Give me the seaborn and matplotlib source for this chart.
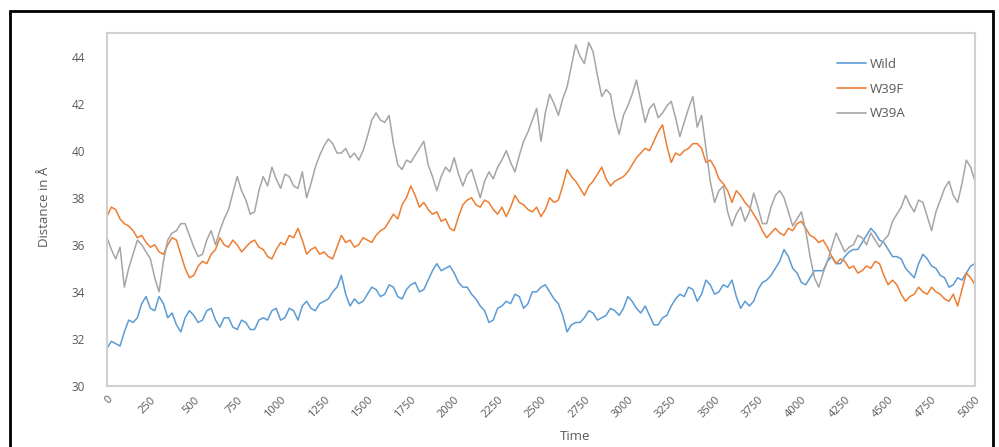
import numpy as np
import pandas as pd
import matplotlib
matplotlib.use("Agg")
import matplotlib.pyplot as plt
import seaborn as sns
from matplotlib.patches import Rectangle

# ---- data (one value every 25 time units) ----
time = list(range(0, 5001, 25))

wild = [31.6, 31.9, 31.8, 31.7, 32.3, 32.8, 32.7, 32.9, 33.5, 33.8,
        33.3, 33.2, 33.8, 33.5, 32.9, 33.1, 32.6, 32.3, 32.9, 33.2,
        33.0, 32.7, 32.8, 33.2, 33.3, 32.8, 32.5, 32.9, 32.9, 32.5,
        32.4, 32.8, 32.7, 32.4, 32.4, 32.8, 32.9, 32.8, 33.2, 33.3,
        32.8, 32.9, 33.3, 33.2, 32.8, 33.4, 33.6, 33.3, 33.2, 33.5,
        33.6, 33.7, 34.0, 34.2, 34.7, 33.9, 33.4, 33.7, 33.5, 33.6,
        33.9, 34.2, 34.1, 33.8, 33.9, 34.3, 34.2, 33.8, 33.7, 34.1,
        34.3, 34.4, 34.0, 34.1, 34.5, 34.9, 35.2, 34.9, 35.0, 35.1,
        34.8, 34.4, 34.2, 34.2, 33.9, 33.7, 33.4, 33.2, 32.7, 32.8,
        33.3, 33.4, 33.6, 33.5, 33.9, 33.8, 33.3, 33.5, 34.0, 34.0,
        34.2, 34.3, 34.0, 33.7, 33.5, 33.0, 32.3, 32.6, 32.7, 32.7,
        32.9, 33.2, 33.1, 32.8, 32.9, 33.0, 33.3, 33.2, 33.0, 33.3,
        33.8, 33.6, 33.3, 33.1, 33.4, 33.0, 32.6, 32.6, 32.9, 33.0,
        33.4, 33.7, 33.9, 33.8, 34.2, 34.1, 33.6, 33.9, 34.5, 34.3,
        33.9, 34.0, 34.3, 34.2, 34.5, 33.8, 33.3, 33.6, 33.4, 33.6,
        34.1, 34.4, 34.5, 34.7, 35.0, 35.3, 35.8, 35.5, 35.0, 34.8,
        34.4, 34.3, 34.6, 34.9, 34.9, 34.9, 35.3, 35.5, 35.2, 35.2,
        35.5, 35.7, 35.8, 35.8, 36.1, 36.4, 36.7, 36.5, 36.2, 36.1,
        35.8, 35.5, 35.5, 35.4, 35.0, 34.8, 34.6, 35.2, 35.6, 35.4,
        35.1, 35.0, 34.7, 34.6, 34.2, 34.3, 34.6, 34.5, 34.8, 35.1,
        35.2]

w39f = [37.2, 37.6, 37.5, 37.1, 36.9, 36.8, 36.6, 36.3, 36.4, 36.1,
        35.9, 36.0, 35.7, 35.6, 36.0, 36.3, 36.2, 35.6, 35.0, 34.6,
        34.7, 35.1, 35.3, 35.2, 35.6, 35.8, 36.3, 36.0, 35.9, 36.2,
        36.0, 35.7, 35.9, 36.1, 36.2, 35.9, 35.8, 35.5, 35.4, 35.8,
        36.1, 36.0, 36.4, 36.3, 36.7, 36.2, 35.6, 35.8, 35.9, 35.6,
        35.7, 35.5, 35.4, 35.9, 36.4, 36.1, 36.2, 35.9, 36.0, 36.3,
        36.2, 36.1, 36.4, 36.6, 36.7, 37.0, 37.3, 37.1, 37.7, 38.0,
        38.5, 38.1, 37.6, 37.8, 37.5, 37.3, 37.4, 37.0, 37.1, 36.7,
        36.6, 37.2, 37.7, 37.9, 38.0, 37.7, 37.6, 37.9, 37.8, 37.5,
        37.3, 37.6, 37.2, 37.6, 38.1, 37.8, 37.7, 37.5, 37.4, 37.6,
        37.2, 37.5, 38.0, 37.8, 37.9, 38.5, 39.2, 38.9, 38.7, 38.4,
        38.1, 38.5, 38.7, 39.0, 39.3, 38.8, 38.5, 38.7, 38.8, 38.9,
        39.1, 39.4, 39.7, 39.9, 40.1, 40.0, 40.4, 40.8, 41.1, 40.2,
        39.5, 39.9, 39.8, 40.0, 40.1, 40.3, 40.3, 40.1, 39.5, 39.6,
        39.3, 38.8, 38.6, 38.3, 37.8, 38.3, 38.1, 37.8, 37.6, 37.3,
        37.0, 36.6, 36.3, 36.5, 36.7, 36.5, 36.4, 36.7, 36.6, 36.9,
        37.0, 36.7, 36.4, 36.3, 36.1, 36.2, 35.9, 35.5, 35.2, 35.4,
        35.3, 35.0, 35.1, 34.8, 34.9, 35.1, 35.0, 35.3, 35.2, 34.7,
        34.3, 34.5, 34.3, 33.9, 33.6, 33.8, 33.9, 34.2, 34.0, 33.9,
        34.2, 34.0, 33.9, 33.7, 33.6, 33.9, 33.4, 34.1, 34.8, 34.6,
        34.3]

w39a = [36.3, 35.8, 35.4, 35.9, 34.2, 35.0, 35.6, 36.2, 36.0, 35.7,
        35.4, 34.6, 34.0, 35.3, 36.2, 36.5, 36.6, 36.9, 36.9, 36.4,
        35.9, 35.5, 35.6, 36.2, 36.6, 36.0, 36.6, 37.1, 37.5, 38.2,
        38.9, 38.3, 37.9, 37.3, 37.4, 38.3, 38.9, 38.5, 39.3, 38.8,
        38.4, 39.0, 38.9, 38.5, 38.4, 39.1, 38.0, 38.6, 39.3, 39.8,
        40.2, 40.5, 40.3, 39.9, 39.9, 40.1, 39.7, 39.9, 39.6, 40.0,
        40.6, 41.3, 41.6, 41.3, 41.2, 41.5, 40.3, 39.4, 39.2, 39.6,
        39.5, 39.8, 40.1, 40.4, 39.4, 38.9, 38.3, 38.9, 39.3, 39.1,
        39.7, 39.0, 38.5, 39.0, 39.2, 38.6, 38.0, 38.7, 39.1, 38.8,
        39.3, 39.6, 40.0, 39.5, 39.1, 39.8, 40.4, 40.8, 41.3, 41.8,
        40.4, 41.6, 42.4, 42.0, 41.5, 42.2, 42.7, 43.6, 44.5, 44.0,
        43.7, 44.6, 44.2, 43.2, 42.3, 42.6, 42.4, 41.4, 40.7, 41.5,
        41.9, 42.4, 43.0, 42.1, 41.2, 41.8, 42.0, 41.4, 41.6, 41.9,
        42.1, 41.4, 40.6, 41.2, 41.8, 42.3, 41.0, 41.5, 40.1, 38.7,
        37.8, 38.3, 38.5, 37.4, 36.8, 37.3, 37.6, 37.0, 37.4, 38.2,
        37.6, 36.9, 36.9, 37.6, 38.1, 38.3, 38.0, 37.4, 36.8, 37.1,
        37.4, 36.6, 35.5, 34.6, 34.2, 34.8, 35.3, 35.9, 36.5, 36.1,
        35.7, 35.9, 36.0, 36.4, 36.3, 36.0, 36.5, 36.2, 35.9, 36.2,
        36.4, 37.0, 37.3, 37.6, 38.1, 37.7, 37.4, 37.9, 37.8, 37.2,
        36.6, 37.4, 37.9, 38.4, 38.7, 38.1, 37.8, 38.6, 39.6, 39.3,
        38.7]

series_names = ["Wild", "W39F", "W39A"]
series_colors = ["#5B9BD5", "#ED7D31", "#A5A5A5"]
x_ticks = list(range(0, 5001, 250))
y_ticks = list(range(30, 45, 2))

df = pd.DataFrame({
    "Time": time * 3,
    "Distance": wild + w39f + w39a,
    "Series": ["Wild"] * len(time) + ["W39F"] * len(time) + ["W39A"] * len(time),
})

# ---- style ----
sns.set_style("white")
plt.rcParams["font.family"] = ["Open Sans", "DejaVu Sans"]
txt = "#595959"

fig = plt.figure(figsize=(9.99, 4.47), dpi=100)
ax = fig.add_axes([107 / 999, 1 - 386 / 447, 868 / 999, 353 / 447])

sns.lineplot(data=df, x="Time", y="Distance", hue="Series",
             hue_order=series_names, palette=series_colors,
             linewidth=1.1, ax=ax, legend=True)

ax.set_xlim(0, 5000)
ax.set_ylim(30, 45)
ax.set_xticks(x_ticks)
ax.set_xticklabels([str(v) for v in x_ticks], rotation=45, ha="right",
                   rotation_mode="anchor", fontsize=8, color=txt)
ax.set_yticks(y_ticks)
ax.set_yticklabels([str(v) for v in y_ticks], fontsize=8.5, color=txt)
ax.tick_params(axis="y", length=0, pad=16)
ax.tick_params(axis="x", length=0, pad=6)
ax.set_xlabel("")
ax.set_ylabel("")

for s in ax.spines.values():
    s.set_color("#d0d0d0")
    s.set_linewidth(1.5)

leg = ax.legend(loc="upper left", bbox_to_anchor=(0.835, 0.945),
                frameon=False, fontsize=9.5, handlelength=2.2,
                handletextpad=0.3, labelspacing=0.9, borderaxespad=0)
for t in leg.get_texts():
    t.set_color(txt)
for h in leg.get_lines():
    h.set_linewidth(1.2)

fig.text(575 / 999, 1 - 436 / 447, "Time", ha="center", va="center",
         fontsize=9.5, color=txt)
fig.text(45 / 999, 1 - 207 / 447, "Distance in Å", ha="center", va="center",
         rotation=90, fontsize=9.5, color=txt)

# outer black frame
fig.patches.append(Rectangle((10 / 999, -0.05), 983 / 999, 1.05 - 11 / 447,
                             transform=fig.transFigure, fill=False,
                             edgecolor="black", linewidth=2))

fig.savefig("out.png", dpi=100)
